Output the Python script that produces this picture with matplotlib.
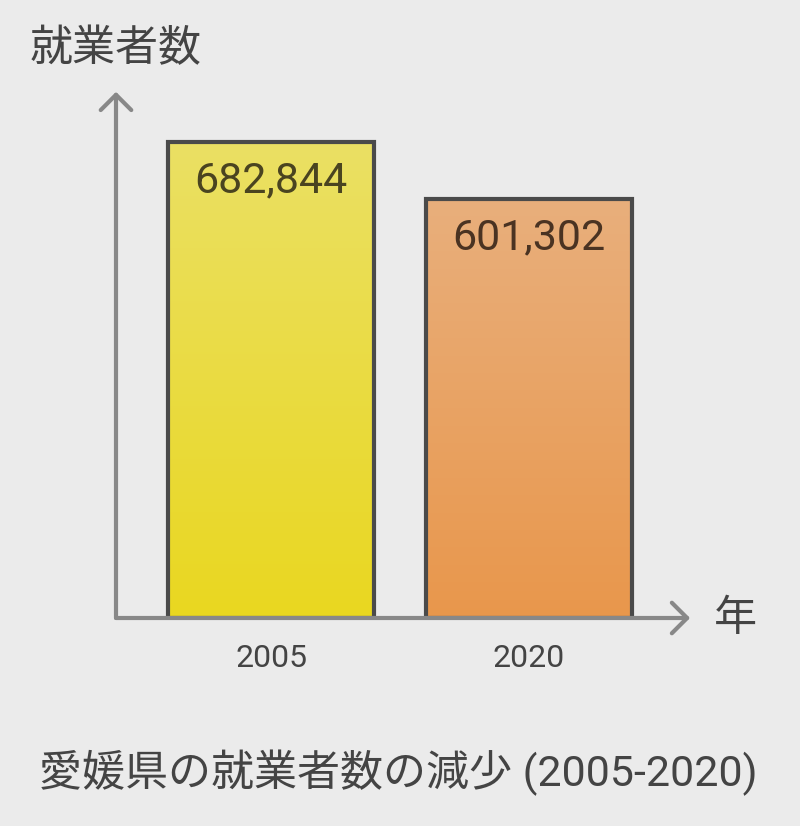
import numpy as np
import matplotlib
matplotlib.use("Agg")
import matplotlib.pyplot as plt
from matplotlib.colors import LinearSegmentedColormap

years = ["2005", "2020"]
workers = [682844, 601302]
value_labels = ["682,844", "601,302"]
top_colors = ["#ebe064", "#e9af7c"]
bottom_colors = ["#e9d720", "#e8974c"]
title = "愛媛県の就業者数の減少 (2005-2020)"
ylabel = "就業者数"
xlabel = "年"

BG = "#ebebeb"
FONT = ["Roboto", "Noto Sans CJK JP", "DejaVu Sans"]
plt.rcParams["font.family"] = FONT

fig = plt.figure(figsize=(8, 8.26), dpi=100, facecolor=BG)
ax = fig.add_axes([116 / 800, (826 - 618) / 826, 584 / 800, 538 / 826])
ax.set_facecolor(BG)

x = np.arange(len(years))
width = 0.798

bars = ax.bar(x, workers, width=width, facecolor="none", edgecolor="#4a4a4a",
              linewidth=3, zorder=3)
for b, tc, bc in zip(bars, top_colors, bottom_colors):
    cmap = LinearSegmentedColormap.from_list("g", [bc, tc])
    grad = np.linspace(0, 1, 256).reshape(-1, 1)
    x0, y0 = b.get_x(), b.get_y()
    im = ax.imshow(grad, cmap=cmap, aspect="auto", origin="lower",
                   extent=[x0, x0 + b.get_width(), y0, y0 + b.get_height()],
                   zorder=2)
    im.set_clip_path(b)

ax.set_xlim(-0.601, 1.663)
ax.set_ylim(0, 771800)

label_colors = ["#4a4420", "#4a3322"]
for xi, v, lab, c in zip(x, workers, value_labels, label_colors):
    ax.annotate(lab, (xi, v), xytext=(0, -28), textcoords="offset points",
                ha="center", va="center", fontsize=31, color=c,
                family=FONT, zorder=5)

for s in ax.spines.values():
    s.set_visible(False)
ax.set_yticks([])
ax.set_xticks(x)
ax.set_xticklabels(years, fontsize=23, color="#444444")
ax.tick_params(axis="x", length=0, pad=19)

arrow = dict(arrowstyle="->,head_length=1.1,head_width=1.1", lw=3,
             color="#888888", shrinkA=0, shrinkB=0, mutation_scale=10)
ax.annotate("", xy=(0.983, 0), xytext=(0, 0), xycoords="axes fraction",
            textcoords="axes fraction", arrowprops=arrow, annotation_clip=False,
            zorder=6)
ax.annotate("", xy=(0, 0.978), xytext=(0, 0), xycoords="axes fraction",
            textcoords="axes fraction", arrowprops=arrow, annotation_clip=False,
            zorder=6)

fig.text(30 / 800, 1 - 50 / 826, ylabel, ha="left", va="center",
         fontsize=31, color="#444444")
fig.text(735 / 800, 1 - 620 / 826, xlabel, ha="center", va="center",
         fontsize=31, color="#444444")
fig.text(398 / 800, 1 - 773 / 826, title, ha="center", va="center",
         fontsize=31, color="#444444")

fig.savefig("out.png", dpi=100, facecolor=BG)
